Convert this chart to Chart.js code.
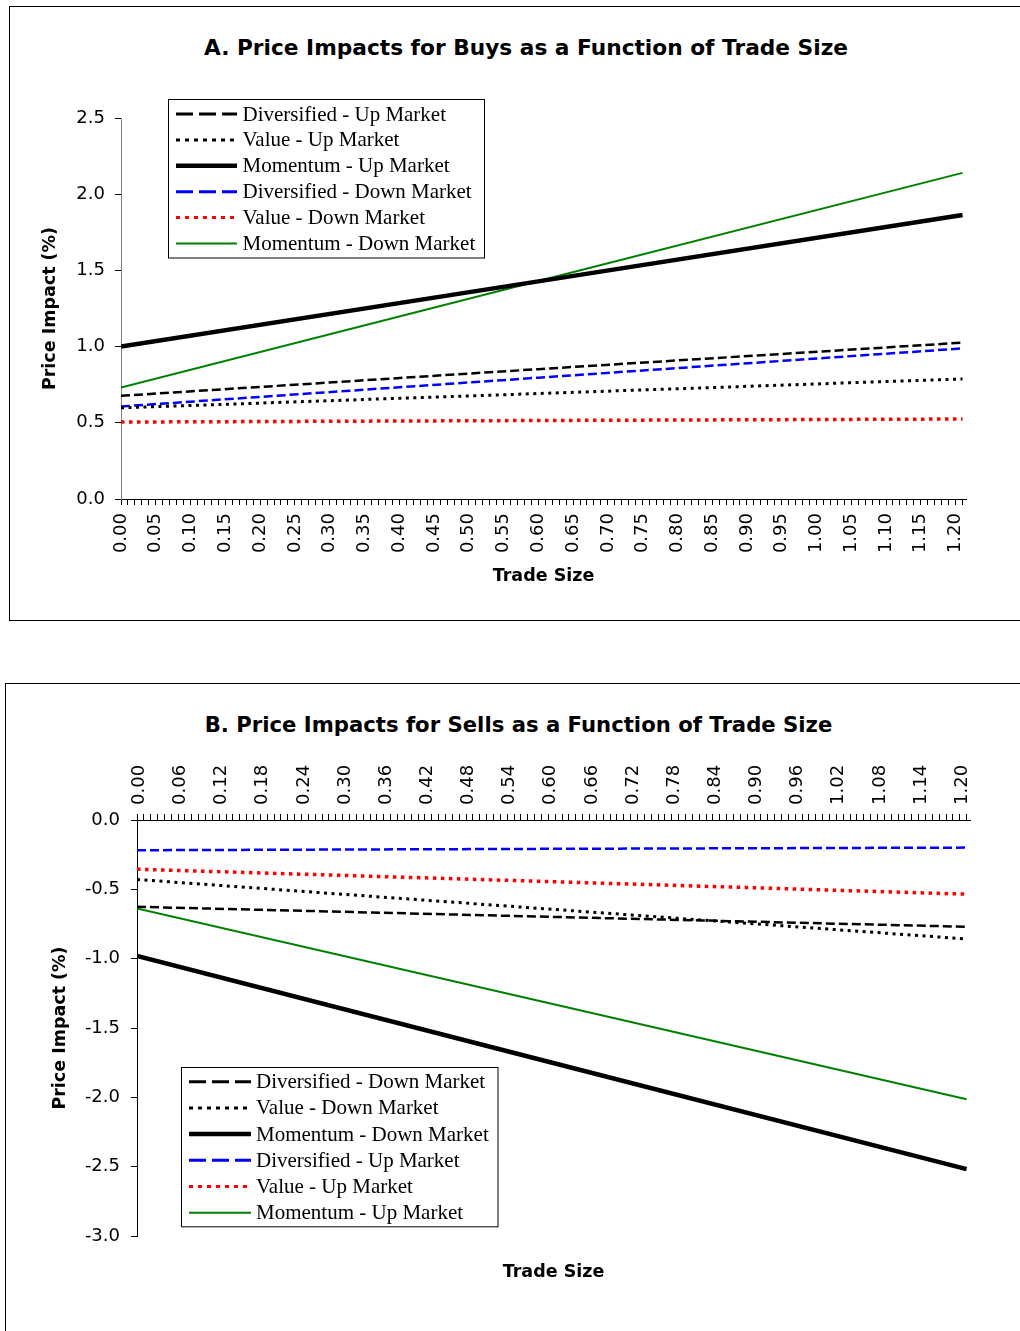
<!DOCTYPE html>
<html><head><meta charset="utf-8">
<script src="https://cdn.jsdelivr.net/npm/chart.js@4"></script>
<style>
html,body{margin:0;padding:0;background:#fff;overflow:hidden;width:1020px;height:1331px;}
.box{position:absolute;border:1.3px solid #000;box-sizing:border-box;}
.ttl{position:absolute;font-family:"DejaVu Sans";font-weight:bold;text-align:center;white-space:nowrap;color:#000;}
canvas{position:absolute;left:0;}
</style></head><body>
<div class="box" style="left:9px;top:6px;width:1100px;height:615px"></div>
<div class="box" style="left:5px;top:683px;width:1100px;height:700px"></div>
<div class="ttl" style="left:0;width:1052px;top:35px;font-size:21.7px;line-height:26px">A. Price Impacts for Buys as a Function of Trade Size</div>
<div class="ttl" style="left:0;width:1037px;top:712px;font-size:21.2px;line-height:26px">B. Price Impacts for Sells as a Function of Trade Size</div>
<canvas id="cA" width="1020" height="620" style="top:0"></canvas>
<canvas id="cB" width="1020" height="648" style="top:683px"></canvas>
<script>
// ---- data ----
const tradeSize = [0, 0.60, 1.21];

// Panel A: buys
const buyDivUp   = [0.677, 0.852, 1.026];
const buyValUp   = [0.598, 0.692, 0.788];
const buyMomUp   = [1.000, 1.428, 1.863];
const buyDivDown = [0.607, 0.796, 0.988];
const buyValDown = [0.505, 0.515, 0.525];
const buyMomDown = [0.731, 1.430, 2.140];

// Panel B: sells
const sellDivDown = [-0.626, -0.698, -0.770];
const sellValDown = [-0.429, -0.642, -0.858];
const sellMomDown = [-0.981, -1.743, -2.518];
const sellDivUp   = [-0.218, -0.208, -0.199];
const sellValUp   = [-0.355, -0.444, -0.535];
const sellMomUp   = [-0.638, -1.320, -2.014];

// tick marks every 0.01 of trade size
const xTickHundredths = [];
for (let i = 0; i <= 121; i++) xTickHundredths.push(i);
const xMax = 1.215;
const labelEveryA = 5;   // labels 0.00, 0.05, ...
const labelEveryB = 6;   // labels 0.00, 0.06, ...

// ---- styles ----
const FONT = 'DejaVu Sans';
const styles = {
  divBlack: {borderColor:'#000', borderWidth:2.5, borderDash:[9,4], legendDash:[17,6], legendWidth:3},
  valBlack: {borderColor:'#000', borderWidth:3, borderDash:[3,4.5], legendDash:[4,5], legendWidth:3},
  momBlack: {borderColor:'#000', borderWidth:4.5, borderDash:[], legendDash:[], legendWidth:4.5},
  divBlue:  {borderColor:'#0000FF', borderWidth:2.5, borderDash:[9,4], legendDash:[17,6], legendWidth:3},
  valRed:   {borderColor:'#FF0000', borderWidth:3.5, borderDash:[3.5,4.5], legendDash:[4,5], legendWidth:3},
  momGreen: {borderColor:'#008000', borderWidth:2, borderDash:[], legendDash:[], legendWidth:2}
};
function ds(label, arr, st) {
  return Object.assign({
    label,
    data: tradeSize.map((x, i) => ({x, y: arr[i]})),
    pointRadius: 0, tension: 0, fill: false, borderCapStyle: 'butt',
    xAxisID: 'x'
  }, st);
}

const legendBox = {
  id: 'legendBox',
  afterDraw(chart, args, o) {
    const ctx = chart.ctx;
    ctx.save();
    ctx.fillStyle = '#fff';
    ctx.fillRect(o.x, o.y, o.w, o.h);
    ctx.strokeStyle = '#000'; ctx.lineWidth = 1; ctx.setLineDash([]);
    ctx.strokeRect(Math.round(o.x) + 0.5, Math.round(o.y) + 0.5, o.w, o.h);
    chart.data.datasets.forEach((d, i) => {
      const y = o.y + o.first + i * o.rowH;
      ctx.beginPath();
      ctx.strokeStyle = d.borderColor;
      ctx.lineWidth = d.legendWidth;
      ctx.lineCap = 'butt';
      ctx.setLineDash(d.legendDash);
      ctx.moveTo(o.x0, y); ctx.lineTo(o.x1, y); ctx.stroke();
      ctx.setLineDash([]);
      ctx.fillStyle = '#000';
      ctx.font = '21px "Liberation Serif"';
      ctx.textBaseline = 'middle';
      ctx.textAlign = 'left';
      ctx.fillText(d.label, o.tx, y + 1);
    });
    ctx.restore();
  }
};

const tickFont = {family: FONT, size: 18};
const titleFont = {family: FONT, size: 17.5, weight: 'bold'};

function xTicksBuilder(s) { s.ticks = xTickHundredths.map(h => ({value: h / 100})); }
function xLabel(every) {
  return v => {
    const h = Math.round(v * 100);
    return (h % every === 0 && h <= 120) ? (h / 100).toFixed(2) : '';
  };
}

// ---- Chart A ----
new Chart(document.getElementById('cA'), {
  type: 'line',
  data: {datasets: [
    ds('Diversified - Up Market', buyDivUp, styles.divBlack),
    ds('Value - Up Market', buyValUp, styles.valBlack),
    ds('Momentum - Up Market', buyMomUp, styles.momBlack),
    ds('Diversified - Down Market', buyDivDown, styles.divBlue),
    ds('Value - Down Market', buyValDown, styles.valRed),
    ds('Momentum - Down Market', buyMomDown, styles.momGreen)
  ]},
  options: {
    responsive: false, animation: false, devicePixelRatio: 1,
    layout: {padding: {top: 118, left: 0, right: 54, bottom: 0}},
    plugins: {
      legend: {display: false}, title: {display: false}, tooltip: {enabled: false},
      legendBox: {x: 167.5, y: 99, w: 316, h: 158.5, first: 15, rowH: 25.9, x0: 176, x1: 237, tx: 242.5}
    },
    scales: {
      x: {
        type: 'linear', position: 'bottom', min: 0, max: xMax,
        afterBuildTicks: xTicksBuilder,
        afterFit: s => { s.height = 121; },
        ticks: {autoSkip: false, minRotation: 90, maxRotation: 90, padding: 8, color: '#000', font: tickFont, callback: xLabel(labelEveryA)},
        grid: {drawOnChartArea: false, drawTicks: true, tickLength: 6, color: '#000', lineWidth: 1},
        border: {display: true, color: '#000', width: 1},
        title: {display: true, text: 'Trade Size', color: '#000', font: titleFont, padding: {top: 0, bottom: 33.5}}
      },
      y: {
        type: 'linear', position: 'left', min: 0, max: 2.5,
        afterFit: s => { s.width = 121; },
        ticks: {stepSize: 0.5, padding: 10, color: '#000', font: tickFont, callback: v => v.toFixed(1)},
        grid: {drawOnChartArea: false, drawTicks: true, tickLength: 6, color: '#000', lineWidth: 1},
        border: {display: true, color: '#808080', width: 1},
        title: {display: true, text: 'Price Impact (%)', color: '#000', font: titleFont, padding: {top: 40, bottom: 0}}
      }
    }
  },
  plugins: [legendBox]
});

// ---- Chart B ----
new Chart(document.getElementById('cB'), {
  type: 'line',
  data: {datasets: [
    ds('Diversified - Down Market', sellDivDown, styles.divBlack),
    ds('Value - Down Market', sellValDown, styles.valBlack),
    ds('Momentum - Down Market', sellMomDown, styles.momBlack),
    ds('Diversified - Up Market', sellDivUp, styles.divBlue),
    ds('Value - Up Market', sellValUp, styles.valRed),
    ds('Momentum - Up Market', sellMomUp, styles.momGreen)
  ]},
  options: {
    responsive: false, animation: false, devicePixelRatio: 1,
    layout: {padding: {top: 60, left: 0, right: 50, bottom: 0}},
    plugins: {
      legend: {display: false}, title: {display: false}, tooltip: {enabled: false},
      legendBox: {x: 180.5, y: 383.7, w: 316.5, h: 159.3, first: 15, rowH: 26.2, x0: 189, x1: 251, tx: 256}
    },
    scales: {
      x: {
        type: 'linear', position: 'top', min: 0, max: xMax,
        afterBuildTicks: xTicksBuilder,
        afterFit: s => { s.height = 77; },
        ticks: {autoSkip: false, minRotation: 90, maxRotation: 90, padding: 9, labelOffset: 24, color: '#000', font: tickFont, callback: xLabel(labelEveryB)},
        grid: {drawOnChartArea: false, drawTicks: true, tickLength: 6, color: '#000', lineWidth: 1},
        border: {display: true, color: '#000', width: 1}
      },
      x2: {
        type: 'linear', position: 'bottom', min: 0, max: xMax,
        afterFit: s => { s.height = 95; },
        ticks: {display: false},
        grid: {display: false, drawTicks: false},
        border: {display: false},
        title: {display: true, text: 'Trade Size', color: '#000', font: titleFont, padding: {top: 0, bottom: 48.5}}
      },
      y: {
        type: 'linear', position: 'left', min: -3, max: 0,
        afterFit: s => { s.width = 137; },
        ticks: {stepSize: 0.5, padding: 11, color: '#000', font: tickFont, callback: v => v.toFixed(1)},
        grid: {drawOnChartArea: false, drawTicks: true, tickLength: 6, color: '#000', lineWidth: 1},
        border: {display: true, color: '#000', width: 1},
        title: {display: true, text: 'Price Impact (%)', color: '#000', font: titleFont, padding: {top: 49.5, bottom: 0}}
      }
    }
  },
  plugins: [legendBox]
});
</script>
</body></html>
